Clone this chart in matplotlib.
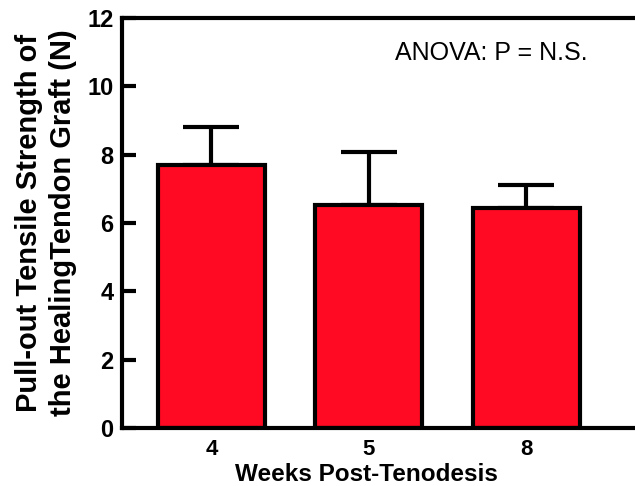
import matplotlib
matplotlib.use("Agg")
import matplotlib.pyplot as plt

categories = ["4", "5", "8"]
means = [7.70, 6.53, 6.44]
errors = [1.11, 1.55, 0.67]
yticks = [0, 2, 4, 6, 8, 10, 12]

plt.rcParams['font.family'] = ['Liberation Sans', 'DejaVu Sans']
fig = plt.figure(figsize=(6.35, 4.86), dpi=100)
ax = fig.add_axes([0.192, 0.119, 0.808, 0.844])

x = list(range(len(categories)))
ax.bar(x, means, width=0.68, color='#FF0A22', edgecolor='black', linewidth=3, zorder=2)
ax.errorbar(x, means, yerr=[[0]*3, errors], fmt='none', ecolor='black',
            elinewidth=3, capsize=20, capthick=3, zorder=1)

ax.set_xlim(-0.568, 2.69)
ax.set_ylim(0, 12)
ax.set_yticks(yticks)
ax.set_xticks(x)
ax.set_xticklabels(categories)
for s in ['left', 'bottom', 'top']:
    ax.spines[s].set_linewidth(3)
ax.spines['right'].set_visible(False)
ax.tick_params(axis='y', direction='in', length=10, width=3, labelsize=17, pad=6)
ax.tick_params(axis='x', length=0, labelsize=16, pad=8)
for lab in ax.get_xticklabels() + ax.get_yticklabels():
    lab.set_fontweight('bold')
ax.set_xlabel("Weeks Post-Tenodesis", fontsize=17.5, fontweight='bold')
ax.xaxis.set_label_coords(0.476, -0.085)
ax.set_ylabel("Pull-out Tensile Strength of\nthe HealingTendon Graft (N)", fontsize=21,
              fontweight='bold', labelpad=7, linespacing=1.3)
ax.text(0.719, 0.915, "ANOVA: P = N.S.", transform=ax.transAxes, ha='center', va='center',
        fontsize=18)
fig.savefig("out.png", dpi=100)
